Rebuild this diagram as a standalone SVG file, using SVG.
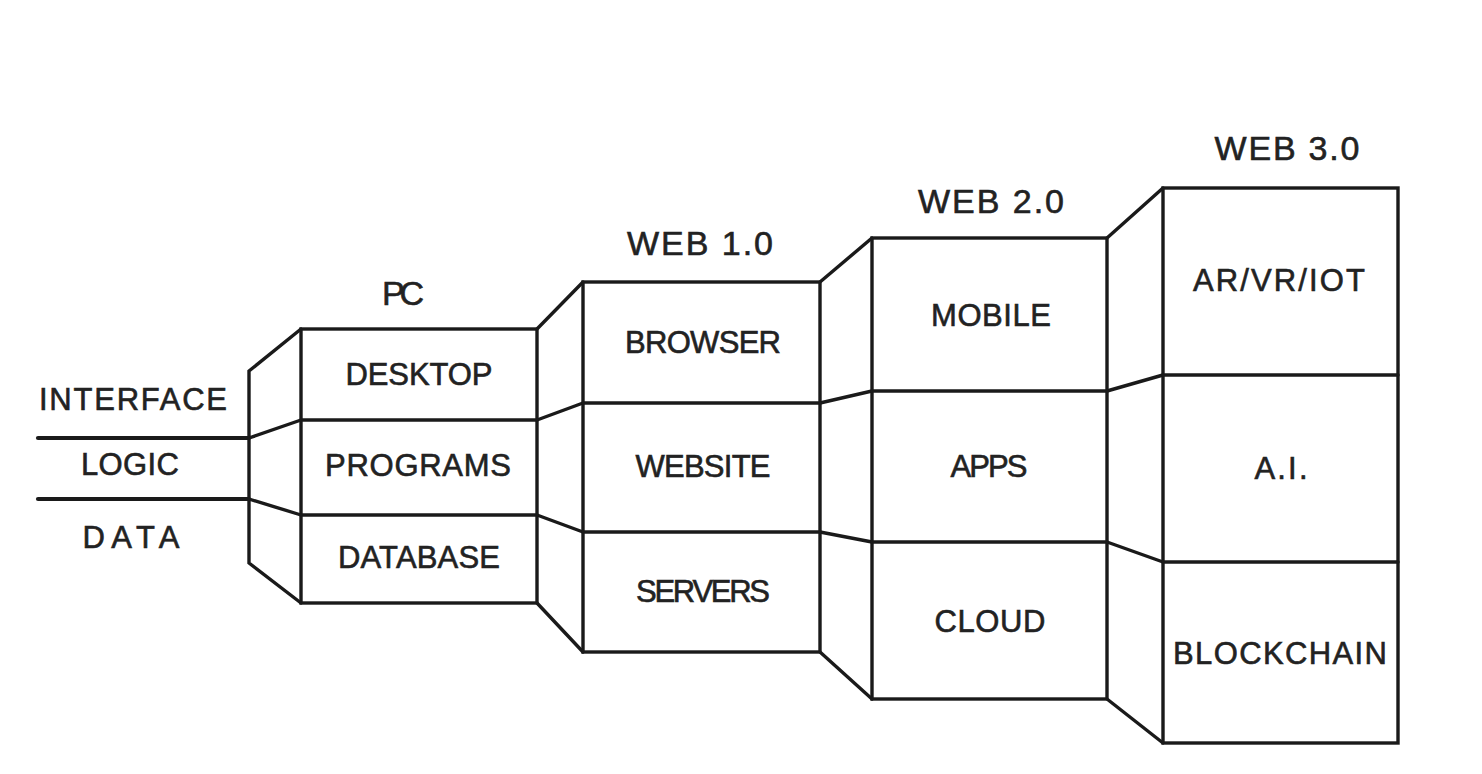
<svg xmlns="http://www.w3.org/2000/svg" width="1482" height="774" viewBox="0 0 1482 774">
<style>
.ln{fill:none;stroke:#1a1a1a;stroke-width:3.4;stroke-linecap:round;stroke-linejoin:miter}
.thick{stroke-width:4.2}
.box{fill:#ffffff;stroke:#1a1a1a;stroke-width:3.4}
text{font-family:"Liberation Sans",Arial,sans-serif;font-size:31px;fill:#222222;stroke:#222222;stroke-width:0.6;text-anchor:middle}
.title{font-size:34px}
</style>
<rect x="0" y="0" width="1482" height="774" fill="#ffffff"/>
<g id="connectors">
  <line class="ln thick" x1="38" y1="438" x2="249" y2="438"/>
  <line class="ln thick" x1="38" y1="499" x2="249" y2="499"/>
  <path class="ln" d="M301,329 L249,371 L249,563 L301,603 M249,438 L301,420 M249,499 L301,515"/>
  <path class="ln" d="M537,329 L583,282 M537,420 L583,403 M537,515 L583,532 M537,603 L583,652"/>
  <path class="ln" d="M820,282 L872,238 M820,403 L872,391 M820,532 L872,542 M820,652 L872,699"/>
  <path class="ln" d="M1107,238 L1163,188 M1107,391 L1163,375 M1107,542 L1163,562 M1107,699 L1163,743"/>
</g>
<g id="layers">
  <text x="133" y="410" textLength="188">INTERFACE</text>
  <text x="130" y="475" textLength="98">LOGIC</text>
  <text x="131" y="548" font-size="33" textLength="97">DATA</text>
</g>
<g id="pc">
  <text class="title" x="403" y="305" textLength="42">PC</text>
  <rect class="box" x="301" y="329" width="236" height="274"/>
  <line class="ln" x1="301" y1="420" x2="537" y2="420"/>
  <line class="ln" x1="301" y1="515" x2="537" y2="515"/>
  <text x="419" y="385" textLength="147">DESKTOP</text>
  <text x="418" y="476" textLength="186">PROGRAMS</text>
  <text x="419" y="568" textLength="162">DATABASE</text>
</g>
<g id="web1">
  <text class="title" x="700" y="255" textLength="146">WEB 1.0</text>
  <rect class="box" x="583" y="282" width="237" height="370"/>
  <line class="ln" x1="583" y1="403" x2="820" y2="403"/>
  <line class="ln" x1="583" y1="532" x2="820" y2="532"/>
  <text x="703" y="353" textLength="156">BROWSER</text>
  <text x="703" y="477" textLength="135">WEBSITE</text>
  <text x="703" y="602" textLength="134">SERVERS</text>
</g>
<g id="web2">
  <text class="title" x="991" y="213" textLength="146">WEB 2.0</text>
  <rect class="box" x="872" y="238" width="235" height="461"/>
  <line class="ln" x1="872" y1="391" x2="1107" y2="391"/>
  <line class="ln" x1="872" y1="542" x2="1107" y2="542"/>
  <text x="991" y="326" textLength="120">MOBILE</text>
  <text x="989" y="477" textLength="77">APPS</text>
  <text x="990" y="632" textLength="111">CLOUD</text>
</g>
<g id="web3">
  <text class="title" x="1287" y="160" textLength="145">WEB 3.0</text>
  <rect class="box" x="1163" y="188" width="235" height="555"/>
  <line class="ln" x1="1163" y1="375" x2="1398" y2="375"/>
  <line class="ln" x1="1163" y1="562" x2="1398" y2="562"/>
  <text x="1279" y="291" textLength="172">AR/VR/IOT</text>
  <text x="1281" y="479" textLength="53">A.I.</text>
  <text x="1280" y="664" textLength="214">BLOCKCHAIN</text>
</g>
</svg>
